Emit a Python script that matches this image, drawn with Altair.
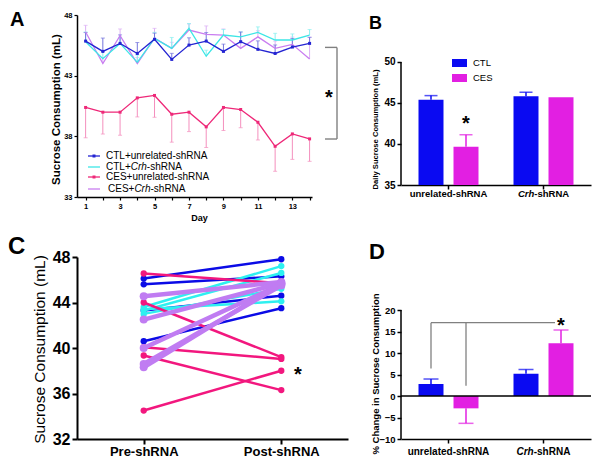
import altair as alt
import pandas as pd

FONT = "Liberation Sans"

# ---------------- Panel A data (daily means, error lengths) ----------------
days = list(range(1, 15))
a_series = ["CTL+unrelated-shRNA", "CTL+Crh-shRNA", "CES+unrelated-shRNA", "CES+Crh-shRNA"]
a_ctl_unrel = [45.85, 45.0, 45.66, 44.83, 46.0, 44.34, 45.52, 45.85, 45.0, 45.8, 45.17, 44.83, 45.36, 45.66]
a_ctl_unrel_err = [0.7, 1.1, 0.7, 0.9, 0.5, 0.5, 0.6, 0.7, 0.6, 0.8, 0.7, 0.7, 0.7, 0.5]
a_ctl_crh = [45.8, 44.4, 45.66, 44.1, 46.07, 45.25, 46.9, 44.6, 46.35, 46.2, 46.57, 45.94, 45.94, 46.35]
a_ctl_crh_err = [0.8, 0.6, 0.5, 0.6, 0.5, 0.9, 0.4, 0.5, 0.45, 0.4, 0.45, 0.55, 0.5, 0.45]
a_ces_unrel = [40.38, 39.99, 39.99, 41.17, 41.37, 39.82, 39.99, 38.78, 40.38, 40.21, 39.16, 37.18, 38.2, 37.79]
a_ces_unrel_err = [2.5, 1.8, 1.9, 1.57, 1.8, 2.3, 1.6, 1.7, 1.9, 1.5, 1.46, 2.06, 2.1, 1.85]
a_ces_crh = [46.6, 44.0, 46.3, 44.0, 46.1, 45.25, 46.76, 46.4, 46.35, 45.25, 46.2, 45.25, 45.58, 44.37]
a_ces_crh_err = [0.55, 0.5, 0.55, 0.5, 0.8, 0.5, 0.5, 0.7, 0.5, 0.5, 0.5, 0.6, 0.6, 1.8]

# ---------------- Panel B / D data ----------------
bd_groups = ["unrelated-shRNA", "Crh-shRNA"]
bd_conds = ["CTL", "CES"]
b_mean = [45.4, 39.67, 45.82, 45.7]
b_err = [0.5, 1.46, 0.48, 0.0]
d_mean = [2.79, -2.87, 5.19, 12.25]
d_err = [1.16, 3.49, 1.0, 3.1]

# ---------------- Panel C data (pre / post per animal) ----------------
c_phases = ["Pre-shRNA", "Post-shRNA"]
c_ctl_unrel_pre = [46.1, 45.6, 43.3, 40.6]
c_ctl_unrel_post = [47.8, 46.3, 44.6, 43.5]
c_ctl_crh_pre = [43.6, 43.3, 43.0, 43.4]
c_ctl_crh_post = [47.2, 46.6, 45.2, 44.1]
c_ces_unrel_pre = [46.55, 44.0, 40.07, 39.34, 34.5]
c_ces_unrel_post = [45.7, 39.2, 39.04, 36.3, 38.0]
c_ces_crh_pre = [44.55, 42.5, 40.0, 38.6, 38.3]
c_ces_crh_post = [45.8, 45.7, 45.6, 45.5, 45.7]

one = pd.DataFrame({"k": [0]})


def txt(s, x, y, size, weight="normal", style="normal", align="left", baseline="middle", color="black"):
    return alt.Chart(one).mark_text(text=s, font=FONT, fontSize=size, fontWeight=weight, fontStyle=style,
                                    align=align, baseline=baseline, color=color).encode(
        x=alt.value(x), y=alt.value(y))


def ax(**kw):
    base = dict(grid=False, domainColor="black", tickColor="black", labelColor="black", titleColor="black",
                labelFont=FONT, titleFont=FONT)
    base.update(kw)
    return alt.Axis(**base)


# =============== Panel A ===============
WA, HA = 235, 182
a_vals = [a_ctl_unrel, a_ctl_crh, a_ces_unrel, a_ces_crh]
a_errs = [a_ctl_unrel_err, a_ctl_crh_err, a_ces_unrel_err, a_ces_crh_err]
a_line_col = ["#2424d2", "#3de6e6", "#ee2878", "#c97df0"]
a_err_col = ["#7474dc", "#8af0f0", "#f48fbd", "#dcb0f5"]
rows = []
for s, v, e in zip(a_series, a_vals, a_errs):
    down = s == "CES+unrelated-shRNA"
    for d, m, er in zip(days, v, e):
        rows.append(dict(day=d, series=s, mean=m,
                         lo=m - er if down else m, hi=m if down else m + er,
                         cap=m - er if down else m + er))
dfA = pd.DataFrame(rows)

xA = alt.X("day:Q", scale=alt.Scale(domain=[0.5, 14.14], nice=False, zero=False),
           axis=ax(values=days, labelExpr="datum.value % 2 == 1 ? datum.label : ''", title="Day",
                   labelFontSize=7.5, labelFontWeight="bold", titleFontSize=9, titleFontWeight="bold",
                   tickSize=3, tickWidth=1.2, domainWidth=1.5, labelPadding=2,
                   titleX=122, titleY=20, titleBaseline="middle"))
yscA = alt.Scale(domain=[33, 48], nice=False, zero=False)
yA_axis = ax(values=[33, 38, 43, 48], title="Sucrose Consumption (mL)", labelFontSize=7.5,
             labelFontWeight="bold", titleFontSize=11.5, titleFontWeight="bold", tickSize=3, tickWidth=1.2,
             domainWidth=1.5, labelPadding=2, titleX=-21, titleY=94, titleBaseline="middle")


def yA(f):
    return alt.Y(f, scale=yscA, axis=yA_axis)


layersA = []
order = [3, 1, 0, 2]
for i in order:
    s = a_series[i]
    base = alt.Chart(dfA[dfA.series == s])
    layersA.append(base.mark_rule(strokeWidth=1, color=a_err_col[i]).encode(x=xA, y=yA("lo:Q"), y2="hi:Q"))
    layersA.append(base.mark_tick(orient="horizontal", size=4, thickness=1, color=a_err_col[i]).encode(
        x=xA, y=yA("cap:Q")))
for i in order:
    s = a_series[i]
    base = alt.Chart(dfA[dfA.series == s])
    layersA.append(base.mark_line(strokeWidth=1.3, color=a_line_col[i]).encode(x=xA, y=yA("mean:Q")))
    if i in (0, 2):
        layersA.append(base.mark_square(size=9, color=a_line_col[i], opacity=1).encode(x=xA, y=yA("mean:Q")))

# significance bracket
brA = pd.DataFrame({"top": [45.33], "bot": [37.78], "s": [41.45]})
layersA.append(alt.Chart(brA).mark_rule(color="#808080", strokeWidth=1.4).encode(
    x=alt.value(260), y=yA("top:Q"), y2="bot:Q"))
layersA.append(alt.Chart(brA).mark_rule(color="#808080", strokeWidth=1.4).encode(
    x=alt.value(248), x2=alt.value(260), y=yA("top:Q")))
layersA.append(alt.Chart(brA).mark_rule(color="#808080", strokeWidth=1.4).encode(
    x=alt.value(248), x2=alt.value(260), y=yA("bot:Q")))
layersA.append(alt.Chart(brA).mark_text(text="*", font=FONT, fontSize=20, fontWeight="bold",
                                        baseline="alphabetic", dy=10).encode(
    x=alt.value(252), y=yA("s:Q")))

# legend
ly = [141, 152, 162, 174]
for i, yy in enumerate(ly):
    layersA.append(alt.Chart(one).mark_rule(color=a_line_col[i], strokeWidth=1.3).encode(
        x=alt.value(11), x2=alt.value(23), y=alt.value(yy)))
    if i in (0, 2):
        layersA.append(alt.Chart(one).mark_square(size=9, color=a_line_col[i], opacity=1).encode(
            x=alt.value(17), y=alt.value(yy)))
layersA.append(txt("CTL+unrelated-shRNA", 29, ly[0], 10))
layersA.append(txt("CTL+", 29, ly[1], 10))
layersA.append(txt("Crh", 53.7, ly[1], 10, style="italic"))
layersA.append(txt("-shRNA", 69.8, ly[1], 10))
layersA.append(txt("CES+unrelated-shRNA", 29, ly[2], 10))
layersA.append(txt("CES+", 31, ly[3], 10))
layersA.append(txt("Crh", 57.4, ly[3], 10, style="italic"))
layersA.append(txt("-shRNA", 73.5, ly[3], 10))
layersA.append(txt("A", -67, 11, 20, weight="bold", baseline="alphabetic"))

A = alt.layer(*layersA).properties(width=WA, height=HA)

# =============== Panel B ===============
WB, HB = 190, 170
bd_color = alt.Color("cond:N", scale=alt.Scale(domain=bd_conds, range=["#0a0af2", "#e21fe2"]), legend=None)
dfB = pd.DataFrame({"group": [g for g in bd_groups for _ in bd_conds],
                    "cond": [c for _ in bd_groups for c in bd_conds],
                    "mean": b_mean, "err": b_err})
dfB["hi"] = dfB["mean"] + dfB["err"]
dfB_err = dfB[dfB.err > 0]

xB = alt.X("group:N", sort=bd_groups, scale=alt.Scale(domain=bd_groups, paddingInner=0, paddingOuter=0),
           axis=ax(labels=False, title=None, tickSize=4, tickWidth=1.5, domainWidth=1.5))
xoB = alt.XOffset("cond:N", sort=bd_conds, scale=alt.Scale(domain=bd_conds, paddingInner=0.286, paddingOuter=0.5))
yscB = alt.Scale(domain=[35, 55.73], nice=False, zero=False)
yB_axis = ax(values=[35, 40, 45, 50], domain=False, title="Daily Sucrose Consumption (mL)", labelFontSize=10,
             labelFontWeight="bold", titleFontSize=7.6, titleFontWeight="bold", tickSize=4, tickWidth=1.5,
             labelPadding=2, titleX=-26, titleY=114, titleBaseline="middle")


def yB(f):
    return alt.Y(f, scale=yscB, axis=yB_axis)


layersB = [
    alt.Chart(dfB).mark_bar().encode(x=xB, xOffset=xoB, y=yB("mean:Q"), y2=alt.datum(35), color=bd_color),
    alt.Chart(dfB_err).mark_rule(strokeWidth=1.5).encode(x=xB, xOffset=xoB, y=yB("mean:Q"), y2="hi:Q",
                                                         color=bd_color),
    alt.Chart(dfB_err).mark_tick(orient="horizontal", size=13, thickness=1.5).encode(
        x=xB, xOffset=xoB, y=yB("hi:Q"), color=bd_color),
]
axB = pd.DataFrame({"a": [35], "b": [50]})
layersB.append(alt.Chart(axB).mark_rule(color="black", strokeWidth=1.5).encode(
    x=alt.value(0), y=yB("a:Q"), y2="b:Q"))
starB = pd.DataFrame({"group": ["unrelated-shRNA"], "cond": ["CES"], "s": [42.93]})
layersB.append(alt.Chart(starB).mark_text(text="*", font=FONT, fontSize=20, fontWeight="bold",
                                          baseline="alphabetic", dy=10).encode(
    x=xB, xOffset=xoB, y=yB("s:Q")))
labB = pd.DataFrame({"group": bd_groups})
layersB.append(alt.Chart(labB.iloc[[0]]).mark_text(text="unrelated-shRNA", font=FONT, fontSize=9.5,
                                                   fontWeight="bold", baseline="middle").encode(
    x=xB, y=alt.value(HB + 9)))
layersB.append(alt.Chart(labB.iloc[[1]]).mark_text(text="Crh", font=FONT, fontSize=9.5, fontWeight="bold",
                                                   fontStyle="italic", align="right", dx=-9.2,
                                                   baseline="middle").encode(x=xB, y=alt.value(HB + 9)))
layersB.append(alt.Chart(labB.iloc[[1]]).mark_text(text="-shRNA", font=FONT, fontSize=9.5, fontWeight="bold",
                                                   align="left", dx=-9.2, baseline="middle").encode(
    x=xB, y=alt.value(HB + 9)))
# legend
layersB.append(alt.Chart(one).mark_rect(color="#0a0af2").encode(
    x=alt.value(51), x2=alt.value(66), y=alt.value(44), y2=alt.value(52)))
layersB.append(alt.Chart(one).mark_rect(color="#e21fe2").encode(
    x=alt.value(51), x2=alt.value(66), y=alt.value(59), y2=alt.value(67)))
layersB.append(txt("CTL", 72, 48, 9.5))
layersB.append(txt("CES", 72, 63, 9.5))
layersB.append(txt("B", -32, 14, 18, weight="bold", baseline="alphabetic"))
B = alt.layer(*layersB).properties(width=WB, height=HB)

# =============== Panel C ===============
WC, HC = 271, 182
c_groups = [
    ("#0b0be6", 2.5, 40, c_ctl_unrel_pre, c_ctl_unrel_post),
    ("#2ef0f0", 2.5, 40, c_ctl_crh_pre, c_ctl_crh_post),
    ("#f2177e", 2.5, 40, c_ces_unrel_pre, c_ces_unrel_post),
    ("#c07cf2", 4.5, 65, c_ces_crh_pre, c_ces_crh_post),
]
xC = alt.X("phase:N", sort=c_phases, scale=alt.Scale(type="point", domain=c_phases, padding=0.485),
           axis=ax(labelAngle=0, title=None, labelFontSize=13, labelFontWeight="bold", tickSize=5,
                   tickWidth=2, domainWidth=2, labelPadding=1))
yC = alt.Y("value:Q", scale=alt.Scale(domain=[32, 48], nice=False, zero=False),
           axis=ax(values=[32, 36, 40, 44, 48], title="Sucrose Consumption (mL)", labelFontSize=16,
                   labelFontWeight="bold", titleFontSize=15.5, titleFontWeight="normal", tickSize=5,
                   tickWidth=2, domainWidth=2, labelPadding=2, titleX=-38, titleY=92,
                   titleBaseline="middle"))
layersC = []
for gi, (col, sw, ps, pre, post) in enumerate(c_groups):
    r = []
    for j, (p0, p1) in enumerate(zip(pre, post)):
        r.append(dict(sid=f"{gi}-{j}", phase=c_phases[0], value=p0))
        r.append(dict(sid=f"{gi}-{j}", phase=c_phases[1], value=p1))
    dfc = pd.DataFrame(r)
    layersC.append(alt.Chart(dfc).mark_line(strokeWidth=sw, color=col).encode(x=xC, y=yC, detail="sid:N"))
    layersC.append(alt.Chart(dfc).mark_circle(size=ps, color=col, opacity=1).encode(x=xC, y=yC))
starC = pd.DataFrame({"value": [38.0]})
layersC.append(alt.Chart(starC).mark_text(text="*", font=FONT, fontSize=20, fontWeight="bold",
                                          baseline="alphabetic", dy=10).encode(x=alt.value(221), y=yC))
layersC.append(txt("C", -69, -3, 24, weight="bold", baseline="alphabetic"))
C = alt.layer(*layersC).properties(width=WC, height=HC)

# =============== Panel D ===============
WD, HD = 190, 182
dfD = pd.DataFrame({"group": [g for g in bd_groups for _ in bd_conds],
                    "cond": [c for _ in bd_groups for c in bd_conds],
                    "mean": d_mean, "err": d_err})
dfD["end"] = [m + e if m >= 0 else m - e for m, e in zip(d_mean, d_err)]
xD = alt.X("group:N", sort=bd_groups, scale=alt.Scale(domain=bd_groups, paddingInner=0, paddingOuter=0),
           axis=ax(labels=False, title=None, tickSize=4, tickWidth=1.5, domainWidth=1.5))
xoD = alt.XOffset("cond:N", sort=bd_conds, scale=alt.Scale(domain=bd_conds, paddingInner=0.286, paddingOuter=0.5))
yscD = alt.Scale(domain=[-10, 32.33], nice=False, zero=False)
yD_axis = ax(values=[-10, -5, 0, 5, 10, 15, 20], domain=False, title="% Change in Sucrose Consumption",
             labelFontSize=9.5, labelFontWeight="bold", titleFontSize=9.5, titleFontWeight="bold", tickSize=4,
             tickWidth=1.5, labelPadding=2, titleX=-26, titleY=116.5, titleBaseline="middle")


def yD(f):
    return alt.Y(f, scale=yscD, axis=yD_axis)


layersD = [
    alt.Chart(dfD).mark_bar().encode(x=xD, xOffset=xoD, y=yD("mean:Q"), color=bd_color),
    alt.Chart(dfD).mark_rule(strokeWidth=1.5).encode(x=xD, xOffset=xoD, y=yD("mean:Q"), y2="end:Q",
                                                     color=bd_color),
    alt.Chart(dfD).mark_tick(orient="horizontal", size=15, thickness=1.5).encode(
        x=xD, xOffset=xoD, y=yD("end:Q"), color=bd_color),
]
axD = pd.DataFrame({"a": [-10], "b": [20], "z": [0]})
layersD.append(alt.Chart(axD).mark_rule(color="black", strokeWidth=1.5).encode(
    x=alt.value(0), y=yD("a:Q"), y2="b:Q"))
layersD.append(alt.Chart(axD).mark_rule(color="black", strokeWidth=1.5).encode(
    x=alt.value(0), x2=alt.value(WD), y=yD("z:Q")))
brD = pd.DataFrame({"group": ["unrelated-shRNA", "unrelated-shRNA"], "cond": ["CTL", "CES"],
                    "top": [17.05, 17.05], "bot": [6.4, 2.4]})
layersD.append(alt.Chart(brD).mark_rule(color="#808080", strokeWidth=1.3).encode(
    x=xD, xOffset=xoD, y=yD("top:Q"), y2="bot:Q"))
layersD.append(alt.Chart(brD.iloc[[0]]).mark_rule(color="#808080", strokeWidth=1.3).encode(
    x=alt.value(30), x2=alt.value(154), y=yD("top:Q")))
starD = pd.DataFrame({"group": ["Crh-shRNA"], "cond": ["CES"], "s": [17.3]})
layersD.append(alt.Chart(starD).mark_text(text="*", font=FONT, fontSize=20, fontWeight="bold",
                                          baseline="alphabetic", dy=10).encode(
    x=xD, xOffset=xoD, y=yD("s:Q")))
labD = pd.DataFrame({"group": bd_groups})
layersD.append(alt.Chart(labD.iloc[[0]]).mark_text(text="unrelated-shRNA", font=FONT, fontSize=10,
                                                   fontWeight="bold", baseline="middle").encode(
    x=xD, y=alt.value(HD + 13)))
layersD.append(alt.Chart(labD.iloc[[1]]).mark_text(text="Crh", font=FONT, fontSize=10, fontWeight="bold",
                                                   fontStyle="italic", align="right", dx=-9.8,
                                                   baseline="middle").encode(x=xD, y=alt.value(HD + 13)))
layersD.append(alt.Chart(labD.iloc[[1]]).mark_text(text="-shRNA", font=FONT, fontSize=10, fontWeight="bold",
                                                   align="left", dx=-9.8, baseline="middle").encode(
    x=xD, y=alt.value(HD + 13)))
layersD.append(txt("D", -32, 2, 22, weight="bold", baseline="alphabetic"))
D = alt.layer(*layersD).properties(width=WD, height=HD)

chart = alt.concat(A, B, C, D, columns=2, spacing={"row": 60, "column": 53}, bounds="flush").properties(
    padding={"top": 2, "left": 0, "right": 0, "bottom": 0}).configure_view(stroke=None)

chart.save("out.html", embed_options={"renderer": "svg", "actions": False})
